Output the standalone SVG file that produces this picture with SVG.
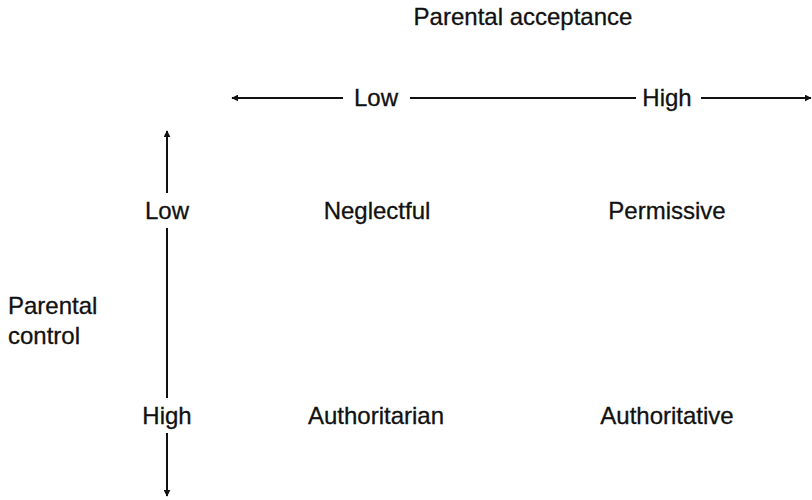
<svg xmlns="http://www.w3.org/2000/svg" width="812" height="500" viewBox="0 0 812 500">
<style>
text{font-family:"Liberation Sans",Arial,sans-serif;font-size:24px;fill:#111;stroke:#111;stroke-width:0.3}
.m{text-anchor:middle}
.ln{stroke:#111;stroke-width:2;fill:none}
</style>
<defs>
<marker id="ah" viewBox="0 0 10 10" refX="9" refY="5" markerWidth="7" markerHeight="7" orient="auto-start-reverse" markerUnits="userSpaceOnUse"><path d="M0,0 L10,5 L0,10 z" fill="#111"/></marker>
</defs>
<rect width="812" height="500" fill="#fff"/>
<g id="connectors">
<line class="ln" x1="232" y1="98" x2="343" y2="98" marker-start="url(#ah)"/>
<line class="ln" x1="410" y1="98" x2="636" y2="98"/>
<line class="ln" x1="701" y1="98" x2="811" y2="98" marker-end="url(#ah)"/>
<line class="ln" x1="167" y1="131" x2="167" y2="193" marker-start="url(#ah)"/>
<line class="ln" x1="167" y1="228" x2="167" y2="398"/>
<line class="ln" x1="167" y1="433" x2="167" y2="496" marker-end="url(#ah)"/>
</g>
<g id="title"><text class="m" x="523" y="25">Parental acceptance</text></g>
<g id="acc-low"><text class="m" x="376" y="106">Low</text></g>
<g id="acc-high"><text class="m" x="667" y="106">High</text></g>
<g id="ctrl-label"><text x="8" y="314">Parental</text><text x="8" y="344">control</text></g>
<g id="ctrl-low"><text class="m" x="167" y="219">Low</text></g>
<g id="ctrl-high"><text class="m" x="167" y="424">High</text></g>
<g id="neglectful"><text class="m" x="377" y="219">Neglectful</text></g>
<g id="permissive"><text class="m" x="667" y="219">Permissive</text></g>
<g id="authoritarian"><text class="m" x="376" y="424">Authoritarian</text></g>
<g id="authoritative"><text class="m" x="667" y="424">Authoritative</text></g>
</svg>
